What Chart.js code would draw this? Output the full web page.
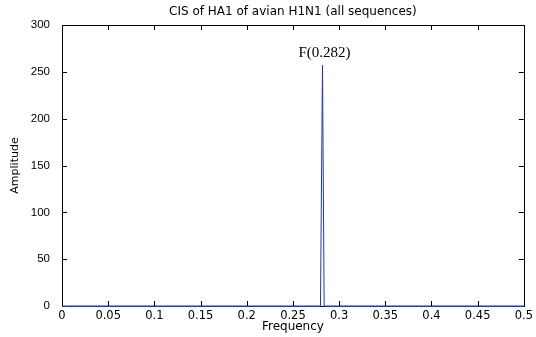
<!DOCTYPE html>
<html>
<head>
<meta charset="utf-8">
<script src="https://cdn.jsdelivr.net/npm/chart.js@4"></script>
<style>
  body { margin: 0; background: #fff; }
  #wrap { width: 536px; height: 337px; }
</style>
</head>
<body>
<div id="wrap"><canvas id="cis" width="536" height="337"></canvas></div>
<script>
// values
const freq = [0, 0.2798, 0.282, 0.2838, 0.5];
const amplitude = [0, 0, 257, 0, 0];
const peakFreq = 0.282;
const peakLabel = "F(0.282)";
const yTicks = [0, 50, 100, 150, 200, 250, 300];

const SANS = "'Liberation Sans', Arial, sans-serif";
const WIDE = "'DejaVu Sans', Verdana, sans-serif";
const LINE = '#1f36c4';

// matlab style box with inward ticks
const boxTicks = {
  id: 'boxTicks',
  afterDraw(chart) {
    const ctx = chart.ctx;
    const a = chart.chartArea;
    const xs = chart.scales.x, ys = chart.scales.y;
    const len = 5;
    ctx.save();
    ctx.strokeStyle = '#000';
    ctx.lineWidth = 1;
    ctx.beginPath();
    xs.ticks.forEach(t => {
      const px = Math.round(xs.getPixelForValue(t.value)) + 0.5;
      ctx.moveTo(px, a.bottom); ctx.lineTo(px, a.bottom - len);
      ctx.moveTo(px, a.top); ctx.lineTo(px, a.top + len);
    });
    ys.ticks.forEach(t => {
      const py = Math.round(ys.getPixelForValue(t.value)) + 0.5;
      ctx.moveTo(a.left, py); ctx.lineTo(a.left + len, py);
      ctx.moveTo(a.right, py); ctx.lineTo(a.right - len, py);
    });
    ctx.stroke();
    ctx.strokeRect(Math.round(a.left) + 0.5, Math.round(a.top) + 0.5,
      Math.round(a.right - a.left), Math.round(a.bottom - a.top));
    ctx.restore();

    // zero part of the series sits on top of the axis line
    const y0 = Math.round(ys.getPixelForValue(0)) + 0.5;
    ctx.save();
    ctx.strokeStyle = LINE;
    ctx.beginPath();
    ctx.moveTo(a.left, y0);
    ctx.lineTo(xs.getPixelForValue(freq[1]), y0);
    ctx.moveTo(xs.getPixelForValue(freq[3]), y0);
    ctx.lineTo(a.right, y0);
    ctx.stroke();

    // peak label
    const i = amplitude.indexOf(Math.max(...amplitude));
    ctx.fillStyle = '#000';
    ctx.font = "15px 'Liberation Serif', 'Times New Roman', serif";
    ctx.textAlign = 'center';
    ctx.textBaseline = 'alphabetic';
    ctx.fillText(peakLabel, xs.getPixelForValue(peakFreq) + 2, ys.getPixelForValue(amplitude[i]) - 8);
    ctx.restore();
  }
};

new Chart(document.getElementById('cis'), {
  type: 'line',
  data: {
    datasets: [{
      data: freq.map((f, i) => ({ x: f, y: amplitude[i] })),
      borderColor: LINE,
      borderWidth: 1,
      pointRadius: 0,
      tension: 0,
      fill: false
    }]
  },
  options: {
    responsive: false,
    animation: false,
    events: [],
    layout: { padding: { left: 0, right: 10, top: 0, bottom: 0 } },
    plugins: {
      legend: { display: false },
      tooltip: { enabled: false },
      title: {
        display: true,
        fullSize: false,
        text: 'CIS of HA1 of avian H1N1 (all sequences)',
        color: '#000',
        font: { family: WIDE, size: 12, weight: 'normal', lineHeight: 1.2 },
        padding: { top: 5, bottom: 5.6 }
      }
    },
    scales: {
      x: {
        type: 'linear',
        min: 0,
        max: 0.5,
        afterFit(s) { s.height = 31; },
        grid: { display: false, drawTicks: false },
        border: { display: false },
        ticks: {
          stepSize: 0.05,
          padding: 3,
          maxRotation: 0,
          autoSkip: false,
          color: '#000',
          font: { family: WIDE, size: 11.5 },
          callback: v => String(Number(v.toFixed(2)))
        },
        title: {
          display: true,
          text: 'Frequency',
          color: '#000',
          font: { family: WIDE, size: 12 },
          padding: { top: 0, bottom: 3 }
        }
      },
      y: {
        min: 0,
        max: 300,
        afterFit(s) { s.width = 62; },
        afterBuildTicks(s) { s.ticks = yTicks.map(v => ({ value: v })); },
        grid: { display: false, drawTicks: false },
        border: { display: false },
        ticks: {
          padding: 12,
          color: '#000',
          font: { family: SANS, size: 11.5 }
        },
        title: {
          display: true,
          text: 'Amplitude',
          color: '#000',
          font: { family: WIDE, size: 11 },
          padding: { top: 9, bottom: 0 }
        }
      }
    }
  },
  plugins: [boxTicks]
});
</script>
</body>
</html>
